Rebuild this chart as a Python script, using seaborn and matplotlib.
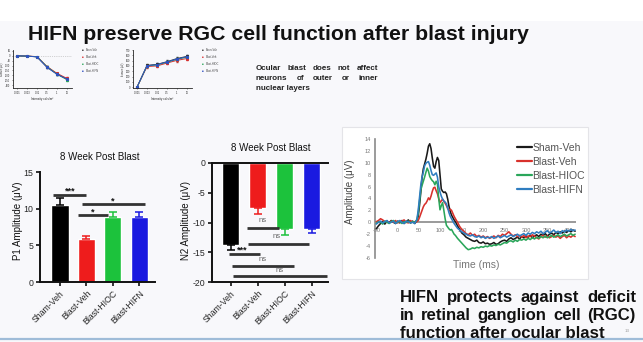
import numpy as np
import pandas as pd
import matplotlib
matplotlib.use("Agg")
import matplotlib.pyplot as plt
from matplotlib.patches import Rectangle
from matplotlib.lines import Line2D
import seaborn as sns

# ---------------- data ----------------
groups = ["Sham-Veh", "Blast-Veh", "Blast-HIOC", "Blast-HIFN"]
bar_colors = ["#000000", "#ee1c1c", "#1cc23c", "#1a1ae0"]
line_colors = ["#1a1a1a", "#d8312c", "#2aa65a", "#2f7dc0"]

p1_mean = [10.5, 5.9, 8.9, 8.9]
p1_sem = [1.0, 0.4, 0.6, 0.6]
n2_mean = [-13.7, -7.6, -11.1, -11.1]
n2_sem = [1.0, 0.9, 1.0, 0.6]

# significance brackets: (x_start, x_end, y_line, label, x_label, y_label)
p1_sig = [(-0.27, 1.0, 11.9, "***", 0.38, 12.4),
          (0.69, 1.8, 9.1, "*", 1.23, 9.5),
          (0.85, 3.23, 10.6, "*", 2.0, 11.0)]
n2_sig = [(0.61, 1.80, -10.9, "ns", 1.17, -9.7),
          (0.65, 2.90, -13.6, "ns", 1.72, -12.4),
          (-0.06, 1.09, -15.3, "***", 0.42, -14.6),
          (0.06, 2.35, -17.3, "ns", 1.20, -16.3),
          (0.09, 3.57, -19.0, "ns", 1.83, -18.0)]

# ERG waveform (time in ms)
t_ms = ([-50, -45, -40, -35, -30, -25, -20, -15, -10, -5, 0, 5, 10, 15, 20, 25, 30, 35, 40] +
        [45, 48, 51, 54, 57, 60, 63, 66, 69, 72, 75, 78, 81, 84, 87, 90, 93, 96, 99, 102, 105,
         108, 111, 114, 117, 120, 123, 126, 129, 132, 135, 140, 145, 150, 155, 160] +
        list(range(165, 416, 5)))

sham_wave = ([-1.1, -0.6, -0.2, 0.1, -0.3, 0.2, -0.1, 0.3, 0.0, -0.2, 0.2, -0.1, 0.3, -0.2, 0.1, 0.4, -0.1, 0.2, -0.2] +
             [0.3, 1.0, 2.8, 5.0, 7.5, 9.0, 9.8, 10.6, 11.6, 12.8, 13.2, 12.4, 10.8, 9.4, 9.1, 10.2, 10.9, 10.4,
              8.0, 5.6, 5.2, 5.0, 5.1, 4.8, 3.9, 2.7, 1.8, 1.2, 0.8, 0.4, 0.1, -0.6, -1.2, -1.8, -2.1, -2.5] +
             [-2.7, -2.9, -3.1, -3.2, -3.0, -3.4, -3.5, -3.3, -3.6, -3.5, -3.7,
              -3.6, -3.4, -3.7, -3.6, -3.3, -3.1, -3.0, -3.2, -2.8, -2.6,
              -2.9, -2.7, -2.5, -2.8, -2.4, -2.6, -2.3, -2.5, -2.2, -2.6,
              -2.3, -2.1, -2.4, -2.0, -2.2, -1.9, -2.3, -2.0, -1.8, -2.1,
              -1.7, -1.9, -1.6, -1.8, -1.5, -1.7, -1.4, -1.6, -1.3, -1.5])
veh_wave = ([0.1, 0.3, 0.6, 0.4, 0.1, 0.2, -0.1, 0.2, 0.0, 0.3, -0.1, 0.1, 0.2, 0.4, 0.0, -0.1, 0.3, 0.0, 0.1] +
            [0.1, 0.3, 0.8, 1.4, 2.0, 2.6, 3.0, 3.2, 3.6, 4.1, 3.8, 4.4, 5.2, 5.8, 5.9, 5.3, 4.8, 4.0,
             3.3, 3.6, 3.9, 3.5, 3.2, 2.8, 2.3, 2.1, 2.2, 2.0, 1.5, 1.0, 0.6, 0.0, -0.7, -1.2, -1.5, -1.9] +
            [-2.1, -1.8, -2.2, -2.0, -2.4, -2.2, -2.5, -2.3, -2.6, -2.4, -2.7,
             -2.5, -2.3, -2.6, -2.2, -2.4, -2.0, -2.2, -1.9, -1.6, -2.0,
             -2.3, -2.1, -2.4, -2.2, -2.5, -2.2, -2.6, -2.3, -2.4, -2.1,
             -2.3, -2.6, -2.8, -2.4, -2.2, -2.5, -2.3, -2.6, -2.4, -2.2,
             -2.5, -2.3, -2.7, -2.4, -2.2, -2.6, -2.3, -2.5, -2.2, -2.4])
hioc_wave = ([-0.2, 0.1, 0.0, -0.3, 0.2, 0.0, -0.2, 0.1, 0.3, -0.1, 0.0, 0.2, -0.2, 0.1, 0.0, 0.2, -0.1, 0.1, 0.0] +
             [0.4, 1.5, 3.5, 5.4, 6.2, 6.9, 7.6, 8.4, 9.1, 8.6, 7.7, 7.3, 7.0, 6.8, 6.3, 6.9, 6.4, 4.0,
              2.1, 2.8, 3.3, 2.0, 0.6, -0.5, -0.8, -1.1, -1.3, -1.2, -1.6, -2.0, -2.2, -2.7, -3.1, -3.5, -3.9, -4.3] +
             [-4.6, -4.5, -4.3, -4.4, -4.2, -4.3, -4.1, -4.2, -4.0, -4.1, -3.9,
              -4.0, -3.8, -3.9, -3.7, -3.8, -3.6, -3.4, -3.5, -3.2, -3.1,
              -3.3, -3.0, -3.2, -2.9, -3.0, -2.8, -3.0, -2.7, -2.9, -2.6,
              -2.8, -2.5, -2.7, -2.4, -2.6, -2.3, -2.6, -2.4, -2.2, -2.5,
              -2.3, -2.1, -2.4, -2.2, -2.0, -2.3, -2.1, -1.9, -2.2, -2.0])
hifn_wave = ([-0.3, 0.0, 0.2, -0.1, 0.1, 0.3, -0.1, 0.0, 0.2, -0.2, 0.1, 0.3, 0.0, -0.2, 0.2, 0.1, -0.1, 0.0, -0.2] +
             [0.5, 2.0, 4.1, 6.2, 7.6, 8.4, 9.5, 9.9, 10.1, 10.2, 9.6, 8.7, 8.0, 7.9, 8.1, 8.3, 7.6, 6.0,
              5.1, 4.4, 3.9, 3.6, 3.4, 3.1, 2.4, 1.6, 1.0, 0.6, 0.2, -0.2, -0.5, -1.0, -1.3, -1.6, -1.8, -2.0] +
             [-2.2, -2.3, -2.1, -2.4, -2.5, -2.3, -2.6, -2.4, -2.7, -2.5, -2.6,
              -2.4, -2.7, -2.5, -2.3, -2.6, -2.4, -2.2, -2.5, -2.3, -2.1,
              -2.4, -2.2, -2.0, -2.3, -2.1, -1.9, -2.2, -1.8, -2.0, -1.7,
              -1.9, -1.6, -1.8, -1.5, -1.9, -1.7, -1.4, -1.8, -1.6, -1.3,
              -1.7, -1.5, -1.9, -1.4, -1.6, -1.3, -1.5, -1.2, -1.4, -1.3])
waves = [sham_wave, veh_wave, hioc_wave, hifn_wave]
wave_xticks = [-50, 0, 50, 100, 150, 200, 250, 300, 350, 400]
wave_yticks = [-6, -4, -2, 0, 2, 4, 6, 8, 10, 12, 14]

# small intensity-response thumbnails
intensity_labels = ["0.001", "0.003", "0.01", "0.1", "1", "10"]
awave = {"Sham-Veh": [0, -3, -10, -115, -185, -240],
         "Blast-Veh": [0, -2, -8, -110, -180, -232],
         "Blast-HIOC": [0, -3, -9, -112, -188, -245],
         "Blast-HIFN": [0, -2, -11, -118, -190, -238]}
bwave = {"Sham-Veh": [0, 410, 430, 480, 540, 580],
         "Blast-Veh": [0, 390, 400, 455, 505, 540],
         "Blast-HIOC": [0, 400, 420, 470, 525, 565],
         "Blast-HIFN": [0, 405, 425, 475, 530, 575]}
thumb_colors = ["#333333", "#d83030", "#2aa65a", "#3050c0"]

# ---------------- setup ----------------
sns.set_style("ticks")
plt.rcParams["font.family"] = ["Liberation Sans", "DejaVu Sans"]

W, H = 643, 342
fig = plt.figure(figsize=(W / 100, H / 100), dpi=100)
fig.patch.set_facecolor("#f8f8fb")


def axpx(x0, y0, x1, y1):
    return fig.add_axes([x0 / W, 1 - y1 / H, (x1 - x0) / W, (y1 - y0) / H])


def ftext(x, y, s, **kw):
    return fig.text(x / W, 1 - y / H, s, **kw)


fig.add_artist(Rectangle((0, 1 - 21 / H), 1, 21 / H, transform=fig.transFigure,
                         facecolor="white", edgecolor="none", zorder=-2))
fig.add_artist(Line2D([0, 1], [1 - 339 / H, 1 - 339 / H], transform=fig.transFigure,
                      color="#9fbcd8", lw=1.6))

renderer = fig.canvas.get_renderer()


def justified(lines, x0, x1, ys, size, justify_last=False, **kw):
    for i, (line, y) in enumerate(zip(lines, ys)):
        words = line.split()
        last = i == len(lines) - 1
        if last and not justify_last:
            ftext(x0, y, line, fontsize=size, va="center", ha="left", **kw)
            continue
        texts = [ftext(0, y, w, fontsize=size, va="center", ha="left", **kw) for w in words]
        widths = [tt.get_window_extent(renderer).width for tt in texts]
        gap = (x1 - x0 - sum(widths)) / max(len(words) - 1, 1)
        x = x0
        for tt, wd in zip(texts, widths):
            tt.set_x(x / W)
            x += wd + gap


# ---------------- title ----------------
ftext(28, 35, "HIFN preserve RGC cell function after blast injury", fontsize=15.3,
      fontweight="bold", va="center", ha="left", color="#111111")

# ---------------- thumbnails ----------------
for (x0, x1), dat, ylim, yt, ylab in [((13, 72), awave, (-330, 60), [50, 0, -50, -100, -150, -200, -250, -300], "a-wave (μV)"),
                                       ((133, 192), bwave, (-15, 700), [0, 100, 200, 300, 400, 500, 600, 700], "b-wave (μV)")]:
    a = axpx(x0, 50, x1, 88)
    a.set_facecolor("none")
    if dat is awave:
        a.axhline(0, color="#aaaaaa", lw=0.5, ls=":")
    for (name, vals), c in zip(dat.items(), thumb_colors):
        a.errorbar(range(6), vals, yerr=[abs(v) * 0.05 for v in vals], color=c, lw=0.7,
                   marker="s", ms=1.2, elinewidth=0.5, capsize=0.8)
    a.set_xlim(-0.4, 5.5)
    a.set_ylim(*ylim)
    a.set_xticks(range(6))
    a.set_xticklabels(intensity_labels, fontsize=1.8, rotation=0)
    a.set_yticks(yt)
    a.set_yticklabels([str(v) for v in yt], fontsize=1.8)
    a.tick_params(length=1, width=0.4, pad=0.8)
    for s in ["top", "right"]:
        a.spines[s].set_visible(False)
    for s in ["left", "bottom"]:
        a.spines[s].set_linewidth(0.6)
    a.set_xlabel("Intensity cd.s/m²", fontsize=2.2, labelpad=2)
    a.set_ylabel(ylab, fontsize=1.8, labelpad=1)
    lx = x1 + 10
    for i, (name, c) in enumerate(zip(groups, thumb_colors)):
        ftext(lx, 50 + i * 7, "■", fontsize=2, color=c, va="center")
        ftext(lx + 4, 50 + i * 7, name, fontsize=1.9, color="#444444", va="center")

justified(["Ocular blast does not affect", "neurons of outer or inner", "nuclear layers"],
          256, 378, [68.5, 78.5, 88.5], 5.8, fontweight="bold", color="#222222")

# ---------------- bar chart P1 ----------------
ax1 = axpx(40, 172, 155, 282)
ax1.set_facecolor("none")
df1 = pd.DataFrame({"group": groups, "val": p1_mean})
sns.barplot(data=df1, x="group", y="val", hue="group", palette=bar_colors, saturation=1,
            width=0.65, legend=False, ax=ax1)
for i in range(4):
    ax1.errorbar(i, p1_mean[i], yerr=[[0], [p1_sem[i]]], fmt="none", ecolor=bar_colors[i],
                 elinewidth=1.1, capsize=3, capthick=1.1)
ax1.set_xlim(-0.758, 3.6)
ax1.set_ylim(0, 15)
ax1.set_yticks([0, 5, 10, 15])
ax1.set_yticklabels(["0", "5", "10", "15"], fontsize=6.3)
ax1.set_xticks(range(4))
ax1.set_xticklabels(groups, rotation=45, ha="right", rotation_mode="anchor", fontsize=6.3)
ax1.set_xlabel("")
ax1.set_ylabel("")
for s in ["top", "right"]:
    ax1.spines[s].set_visible(False)
for s in ["left", "bottom"]:
    ax1.spines[s].set_linewidth(1.4)
    ax1.spines[s].set_color("#111111")
ax1.tick_params(length=3, width=1.2, pad=2, color="#111111")
for xs, xe, yl, lab, xl, ylb in p1_sig:
    ax1.plot([xs, xe], [yl, yl], color="#333333", lw=2.0, clip_on=False, solid_capstyle="butt")
    ax1.text(xl, ylb, lab, fontsize=6.5, fontweight="bold", ha="center", va="center", color="#111111")
ftext(100, 157, "8 Week Post Blast", fontsize=7, ha="center", va="center", color="#111111")
ftext(18, 221, "P1 Amplitude (μV)", fontsize=7, rotation=90, ha="center", va="center", color="#111111")

# ---------------- bar chart N2 ----------------
ax2 = axpx(212, 163, 328, 282)
ax2.set_facecolor("none")
df2 = pd.DataFrame({"group": groups, "val": n2_mean})
sns.barplot(data=df2, x="group", y="val", hue="group", palette=bar_colors, saturation=1,
            width=0.65, legend=False, ax=ax2)
for i in range(4):
    ax2.errorbar(i, n2_mean[i], yerr=[[n2_sem[i]], [0]], fmt="none", ecolor=bar_colors[i],
                 elinewidth=1.1, capsize=3, capthick=1.1)
ax2.set_xlim(-0.685, 3.61)
ax2.set_ylim(-20, 0)
ax2.set_yticks([-20, -15, -10, -5, 0])
ax2.set_yticklabels(["-20", "-15", "-10", "-5", "0"], fontsize=6.3)
ax2.set_xticks(range(4))
ax2.set_xticklabels(groups, rotation=45, ha="right", rotation_mode="anchor", fontsize=6.3)
ax2.set_xlabel("")
ax2.set_ylabel("")
ax2.spines["right"].set_visible(False)
for s in ["left", "bottom", "top"]:
    ax2.spines[s].set_linewidth(1.4)
    ax2.spines[s].set_color("#111111")
ax2.tick_params(length=3, width=1.2, pad=2, color="#111111")
for xs, xe, yl, lab, xl, ylb in n2_sig:
    ax2.plot([xs, xe], [yl, yl], color="#333333", lw=2.0, clip_on=False, solid_capstyle="butt")
    if lab == "ns":
        ax2.text(xl, ylb, lab, fontsize=5.5, ha="center", va="center", color="#666666")
    else:
        ax2.text(xl, ylb, lab, fontsize=6.5, fontweight="bold", ha="center", va="center", color="#111111")
ftext(271, 148, "8 Week Post Blast", fontsize=7, ha="center", va="center", color="#111111")
ftext(186, 221, "N2 Amplitude (μV)", fontsize=7, rotation=90, ha="center", va="center", color="#111111")

# ---------------- waveform panel ----------------
fig.add_artist(Rectangle((342 / W, 1 - 279 / H), (588 - 342) / W, (279 - 127) / H,
                         transform=fig.transFigure, facecolor="white", edgecolor="#e4e4e8",
                         lw=0.8, zorder=-1))
ax3 = axpx(375, 139, 576, 258)
ax3.set_facecolor("none")
long = pd.DataFrame({
    "t": np.tile(t_ms, 4),
    "amp": np.concatenate(waves),
    "group": np.repeat(groups, len(t_ms)),
})
ax3.axhline(0, color="#9a9a9a", lw=1.4, zorder=1)
sns.lineplot(data=long, x="t", y="amp", hue="group", palette=line_colors, lw=1.15,
             estimator=None, sort=False, ax=ax3, zorder=3)
ax3.spines["bottom"].set_position(("data", 0))
ax3.spines["bottom"].set_visible(False)
for s in ["top", "right"]:
    ax3.spines[s].set_visible(False)
ax3.set_xlim(-53, 417)
ax3.set_ylim(-6, 14)
ax3.set_xticks(wave_xticks)
ax3.set_xticklabels([str(v) for v in wave_xticks], fontsize=4, color="#777777")
ax3.set_yticks(wave_yticks)
ax3.set_yticklabels([str(v) for v in wave_yticks], fontsize=4, color="#777777")
ax3.spines["left"].set_color("#8a8a8a")
ax3.spines["left"].set_linewidth(1.2)
ax3.tick_params(axis="x", length=0, pad=4)
ax3.tick_params(axis="y", length=0, pad=3)
ax3.set_xlabel("")
ax3.set_ylabel("")
handles = [Line2D([], [], color=c, lw=1.6) for c in line_colors]
ax3.legend(handles, groups, loc="center left", bbox_to_anchor=(517 / W, 1 - 169 / H),
           bbox_transform=fig.transFigure, frameon=False, fontsize=7.5, handlelength=1.4,
           handletextpad=0.05, labelspacing=0.38, borderaxespad=0, borderpad=0, labelcolor="#555555")
ftext(350, 192, "Amplitude (μV)", fontsize=7, rotation=90, ha="center", va="center", color="#444444")
ftext(476, 265, "Time (ms)", fontsize=7.5, ha="center", va="center", color="#777777")

# ---------------- bottom-right text ----------------
justified(["HIFN protects against  deficit", "in retinal ganglion cell (RGC)",
           "function after ocular blast"], 400, 636, [297.5, 315.5, 333], 12.1,
          fontweight="bold", color="#111111")
ftext(627, 331, "13", fontsize=3.2, color="#999999", ha="center", va="center")

fig.savefig("out.png", dpi=100, facecolor=fig.get_facecolor())
